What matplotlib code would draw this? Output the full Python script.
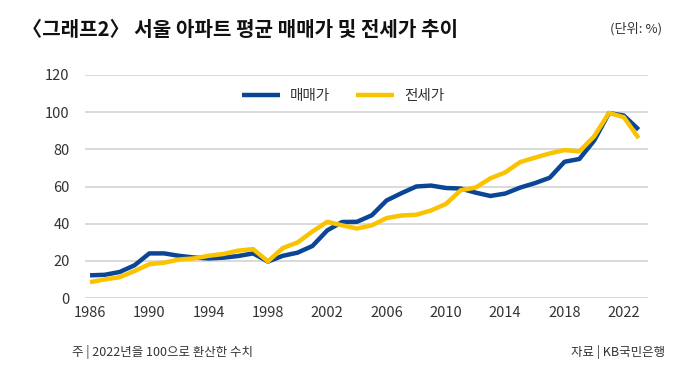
import matplotlib
matplotlib.use("Agg")
import matplotlib.pyplot as plt

plt.rcParams['font.family'] = ['Liberation Sans Narrow', 'Noto Sans CJK KR', 'DejaVu Sans']

years = list(range(1986, 2024))
sale = [12.2, 12.5, 14.0, 17.6, 24.0, 24.0, 22.7, 21.8, 21.3, 21.7, 22.6, 24.0,
        19.6, 22.7, 24.4, 28.0, 36.4, 40.9, 41.0, 44.5, 52.5, 56.4, 60.0, 60.5,
        59.2, 58.9, 56.7, 54.9, 56.2, 59.4, 61.8, 64.7, 73.3, 74.8, 84.7, 99.5,
        98.2, 90.6]
jeonse = [8.5, 10.0, 11.2, 14.5, 18.2, 19.0, 20.7, 21.3, 22.7, 23.7, 25.5, 26.3,
          19.7, 26.9, 29.9, 35.8, 41.0, 39.1, 37.4, 39.1, 43.0, 44.4, 44.8, 47.1,
          50.6, 58.0, 59.4, 64.4, 67.6, 73.1, 75.5, 77.8, 79.6, 78.9, 87.0, 99.6,
          97.3, 86.0]
yticks = [0, 20, 40, 60, 80, 100, 120]
xticks = [1986, 1990, 1994, 1998, 2002, 2006, 2010, 2014, 2018, 2022]

BLUE = '#0b4596'
YELLOW = '#f9c300'
TXT = '#333333'

fig = plt.figure(figsize=(7, 3.7), dpi=100)
ax = fig.add_axes([85/700, 1-298/370, (648-85)/700, (298-75)/370])

ax.plot(years, sale, color=BLUE, lw=3.2, label='매매가', solid_capstyle='butt', zorder=3)
ax.plot(years, jeonse, color=YELLOW, lw=3.2, label='전세가', solid_capstyle='butt', zorder=3)

ax.set_xlim(1985.66, 2023.63)
ax.set_ylim(0, 120)
ax.set_yticks(yticks)
ax.set_xticks(xticks)
ax.set_yticklabels([str(v) for v in yticks])
ax.set_xticklabels([str(v) for v in xticks])
ax.tick_params(axis='both', length=0, labelsize=10.5, labelcolor=TXT)
ax.tick_params(axis='y', pad=11)
ax.tick_params(axis='x', pad=6)
ax.grid(axis='y', color='#d9d9d9', lw=1.4, zorder=0)
ax.set_axisbelow(True)
for s in ax.spines.values():
    s.set_visible(False)

leg = fig.legend(loc='center', bbox_to_anchor=(343/700, 1-96/370), ncol=2,
                 frameon=False, handlelength=2.6, columnspacing=1.8,
                 handletextpad=0.7, prop={'family': ['Noto Sans CJK KR'], 'size': 10.5})
for t in leg.get_texts():
    t.set_color(TXT)

fig.text(22/700, 1-29/370, '〈그래프2〉 서울 아파트 평균 매매가 및 전세가 추이',
         fontsize=14.5, fontweight='bold', color='#111111', va='center', ha='left',
         family=['Noto Sans CJK KR', 'DejaVu Sans'])
fig.text(662/700, 1-29/370, '(단위: %)', fontsize=9.5, color=TXT, va='center', ha='right',
         family=['Noto Sans CJK KR', 'DejaVu Sans'])
fig.text(72/700, 1-352/370, '주 | 2022년을 100으로 환산한 수치', fontsize=9, color=TXT,
         va='center', ha='left', family=['Noto Sans CJK KR', 'DejaVu Sans'])
fig.text(665/700, 1-352/370, '자료 | KB국민은행', fontsize=9, color=TXT,
         va='center', ha='right', family=['Noto Sans CJK KR', 'DejaVu Sans'])

fig.savefig('out.png', dpi=100, facecolor='white')
